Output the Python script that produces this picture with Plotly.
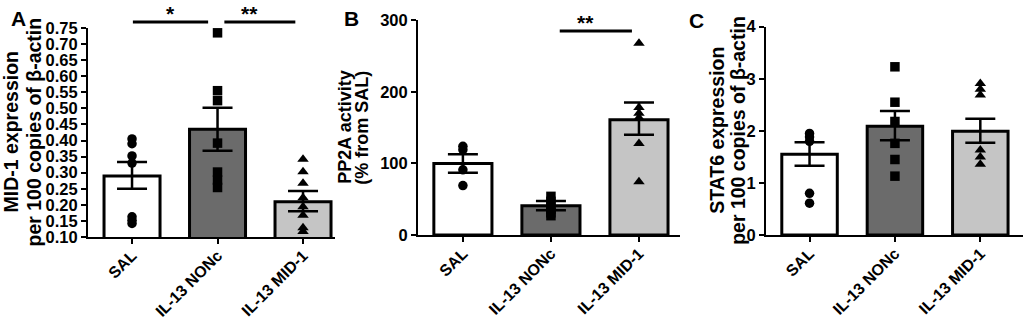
import plotly.graph_objects as go

W, H = 1026, 319
FONT = "Liberation Sans, Arial, sans-serif"


def px_x(px):
    return px / W


def px_y(py):
    return (H - py) / H


categories = ["SAL", "IL-13 NONc", "IL-13 MID-1"]
bar_colors = ["#ffffff", "#6b6b6b", "#c5c5c5"]
symbols = ["circle", "square", "triangle-up"]

# ---- Panel A : MID-1 expression ----
a_means = [0.29, 0.435, 0.21]
a_err_plus = [0.043, 0.067, 0.033]
a_err_minus = [0.040, 0.067, 0.030]
a_sal = [0.405, 0.390, 0.352, 0.330, 0.163, 0.152, 0.142]
a_nonc = [0.735, 0.555, 0.524, 0.392, 0.302, 0.277, 0.254]
a_mid = [0.342, 0.303, 0.267, 0.222, 0.194, 0.168, 0.129, 0.117]
a_ticks = [0.10, 0.15, 0.20, 0.25, 0.30, 0.35, 0.40, 0.45, 0.50, 0.55, 0.60, 0.65, 0.70, 0.75]

# ---- Panel B : PP2A activity ----
b_means = [100, 41, 161]
b_err_plus = [13, 6.5, 24]
b_err_minus = [13, 6.5, 21]
b_sal = [124, 119, 91, 69]
b_nonc = [54, 47, 41, 36, 31, 27]
b_mid = [268, 178, 170, 164, 128, 74.5]
b_ticks = [0, 100, 200, 300]

# ---- Panel C : STAT6 expression ----
c_means = [1.55, 2.09, 1.99]
c_err_plus = [0.23, 0.29, 0.24]
c_err_minus = [0.22, 0.27, 0.22]
c_sal = [1.95, 1.88, 1.80, 0.80, 0.61]
c_nonc = [3.23, 2.55, 2.18, 1.76, 1.45, 1.13]
c_mid = [2.91, 2.80, 2.69, 1.63, 1.50, 1.36]
c_ticks = [0, 1, 2, 3, 4]

# significance brackets: (from, to, level, label)
a_sig = [(0.01, 0.89, 0.769, "*"), (1.08, 1.91, 0.769, "**")]
b_sig = [(1.10, 1.92, 285, "**")]

panels = [
    dict(key="", means=a_means, ep=a_err_plus, em=a_err_minus,
         pts=[a_sal, a_nonc, a_mid], ticks=a_ticks, fmt=".2f",
         yrange=[0.10, 0.75], xpx=(88, 335), ypx=(237, 28),
         xrange=[-0.515, 2.374], bw=0.655, sig=a_sig,
         titles=["MID-1 expression", "per 100 copies of β-actin"], tx=[10, 33], tsize=19.5,
         letter="A", lx=9, ly=5),
    dict(key="2", means=b_means, ep=b_err_plus, em=b_err_minus,
         pts=[b_sal, b_nonc, b_mid], ticks=b_ticks, fmt="d",
         yrange=[0, 300], xpx=(418, 680), ypx=(235, 20.3),
         xrange=[-0.51, 2.466], bw=0.66, sig=b_sig,
         titles=["PP2A activity", "(% from SAL)"], tx=[345, 362], tsize=18,
         letter="B", lx=342, ly=5),
    dict(key="3", means=c_means, ep=c_err_plus, em=c_err_minus,
         pts=[c_sal, c_nonc, c_mid], ticks=c_ticks, fmt="d",
         yrange=[0, 4], xpx=(766, 1023), ypx=(235, 26.7),
         xrange=[-0.51, 2.5], bw=0.65, sig=[],
         titles=["STAT6 expression", "per 100 copies of β-actin"], tx=[717, 738], tsize=19.5,
         letter="C", lx=687, ly=7),
]

fig = go.Figure()
shapes, annotations = [], []
layout = {}

for p in panels:
    k = p["key"]
    xa, ya = "x" + k, "y" + k
    fig.add_trace(go.Bar(
        x=categories, y=p["means"], xaxis=xa, yaxis=ya, width=p["bw"],
        marker=dict(color=bar_colors, line=dict(color="black", width=3)),
        error_y=dict(type="data", symmetric=False, array=p["ep"], arrayminus=p["em"],
                     color="black", thickness=2.5, width=15),
        showlegend=False, hoverinfo="skip"))
    for cat, vals, sym in zip(categories, p["pts"], symbols):
        fig.add_trace(go.Scatter(
            x=[cat] * len(vals), y=vals, xaxis=xa, yaxis=ya, mode="markers",
            marker=dict(symbol=sym, color="black", size=9.5 if sym != "triangle-up" else 10),
            cliponaxis=False, showlegend=False, hoverinfo="skip"))
    xd = [px_x(p["xpx"][0]), px_x(p["xpx"][1])]
    yd = [px_y(p["ypx"][0]), px_y(p["ypx"][1])]
    xtickfont = dict(family=FONT, size=16, color="black", weight="bold")
    ytickfont = dict(family=FONT, size=16.5, color="black", weight="bold")
    layout["xaxis" + k] = dict(
        domain=xd, anchor=ya, type="category", range=p["xrange"],
        showline=True, linecolor="black", linewidth=2, ticks="outside",
        ticklen=5, tickwidth=2, tickcolor="black", tickangle=-45,
        ticklabelstandoff=-4,
        tickfont=xtickfont, showgrid=False, zeroline=False, automargin=False)
    layout["yaxis" + k] = dict(
        domain=yd, anchor=xa, range=p["yrange"], tickvals=p["ticks"],
        tickformat=p["fmt"], showline=True, linecolor="black", linewidth=2,
        ticks="outside", ticklen=5, tickwidth=2, tickcolor="black",
        tickfont=ytickfont, showgrid=False, zeroline=False, automargin=False)
    r0, r1 = p["xrange"]
    y0, y1 = p["yrange"]
    for (s, e, lvl, lab) in p["sig"]:
        yy = (lvl - y0) / (y1 - y0)
        shapes.append(dict(type="line", xref=xa + " domain", yref=ya + " domain",
                           x0=(s - r0) / (r1 - r0), x1=(e - r0) / (r1 - r0),
                           y0=yy, y1=yy, line=dict(color="black", width=3)))
        annotations.append(dict(xref=xa + " domain", yref=ya + " domain",
                                x=((s + e) / 2 - r0) / (r1 - r0), y=yy, text=lab,
                                showarrow=False, yanchor="bottom", yshift=-5,
                                font=dict(family=FONT, size=21, color="black", weight="bold")))
    ymid = px_y((p["ypx"][0] + p["ypx"][1]) / 2)
    for t, tx in zip(p["titles"], p["tx"]):
        annotations.append(dict(xref="paper", yref="paper", x=px_x(tx), y=ymid,
                                text=t, textangle=-90, showarrow=False,
                                xanchor="center", yanchor="middle",
                                font=dict(family=FONT, size=p["tsize"], color="black",
                                          weight="bold")))
    annotations.append(dict(xref="paper", yref="paper", x=px_x(p["lx"]), y=px_y(p["ly"]),
                            text=p["letter"], showarrow=False, xanchor="left", yanchor="top",
                            font=dict(family=FONT, size=21, color="black", weight="bold")))

fig.update_layout(
    width=W, height=H, margin=dict(l=0, r=0, t=0, b=0),
    paper_bgcolor="white", plot_bgcolor="white", hovermode=False,
    shapes=shapes, annotations=annotations, **layout)

fig.write_html("out.html", config={"displayModeBar": False, "staticPlot": True},
               post_script="document.body.style.margin='0px';")
